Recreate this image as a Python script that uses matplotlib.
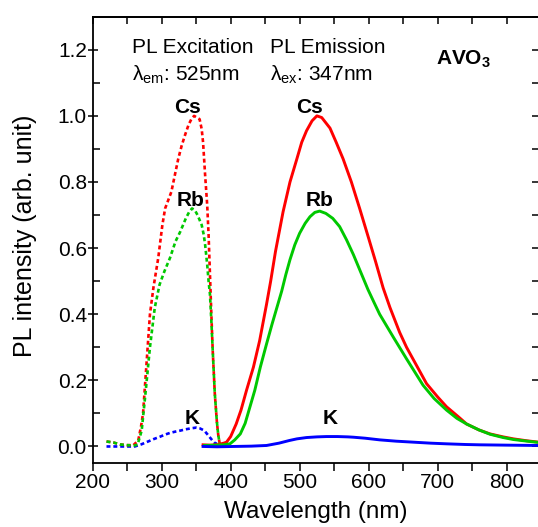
"""
PL excitation / emission spectra of AVO3 (A = Cs, Rb, K).
Saves out.png
"""

import numpy as np
import matplotlib
matplotlib.use("Agg")
import matplotlib.pyplot as plt
import matplotlib.ticker as mticker

plt.rcParams["font.family"] = ["Liberation Sans", "DejaVu Sans"]
plt.rcParams["mathtext.fontset"] = "custom"
plt.rcParams["mathtext.rm"] = "Liberation Sans"
plt.rcParams["mathtext.it"] = "Liberation Sans:italic"
plt.rcParams["mathtext.bf"] = "Liberation Sans:bold"

# --- Data --------------------------------------------------------------------
# Excitation spectra (lambda_em = 525 nm)
exc_cs_wl = [220, 230, 240, 250, 259, 266, 270, 273, 278, 283, 288, 295, 301,
             305, 314, 319, 324, 329, 334, 339, 343, 347, 351, 355, 358, 360,
             363, 366, 368, 370, 372, 374, 377, 380, 382, 384, 386]
exc_cs = [0.015, 0.012, 0.006, 0.004, 0.004, 0.018, 0.06, 0.10, 0.25, 0.40,
          0.48, 0.57, 0.67, 0.72, 0.77, 0.82, 0.87, 0.91, 0.943, 0.973, 0.99,
          1.0, 0.995, 0.99, 0.96, 0.92, 0.82, 0.73, 0.64, 0.52, 0.40, 0.29,
          0.16, 0.075, 0.035, 0.01, 0.005]

exc_rb_wl = [220, 230, 240, 250, 260, 265, 271, 276, 283, 290, 297, 304, 312,
             320, 327, 335, 340, 344, 348, 352, 356, 358, 361, 363, 366, 368,
             370, 372, 374, 377, 380, 382, 384, 386]
exc_rb = [0.015, 0.012, 0.006, 0.004, 0.003, 0.005, 0.048, 0.15, 0.30, 0.42,
          0.49, 0.53, 0.57, 0.62, 0.65, 0.69, 0.71, 0.72, 0.715, 0.70, 0.68,
          0.67, 0.64, 0.61, 0.55, 0.50, 0.46, 0.38, 0.29, 0.16, 0.075, 0.035,
          0.01, 0.005]

exc_k_wl = [220, 230, 240, 250, 261, 270, 278, 288, 297, 305, 312, 320, 327,
            335, 343, 350, 355, 360, 363, 367, 372, 376, 380]
exc_k = [0.0, 0.0, 0.0, 0.0, 0.0, 0.006, 0.013, 0.022, 0.029, 0.036, 0.041,
         0.045, 0.048, 0.052, 0.055, 0.057, 0.055, 0.05, 0.045, 0.035, 0.022,
         0.012, 0.008]

# Emission spectra (lambda_ex = 347 nm)
em_cs_wl = [360, 370, 380, 390, 394, 400, 408, 415, 423, 433, 442, 452, 458,
            465, 476, 486, 496, 503, 510, 518, 525, 532, 544, 553, 563, 575,
            587, 600, 610, 621, 631, 645, 655, 665, 684, 700, 713, 730, 742,
            760, 776, 795, 810, 830, 847]
em_cs = [0.005, 0.004, 0.005, 0.01, 0.013, 0.03, 0.068, 0.11, 0.17, 0.24,
         0.32, 0.43, 0.50, 0.59, 0.71, 0.80, 0.87, 0.92, 0.955, 0.985, 1.0,
         0.995, 0.963, 0.92, 0.87, 0.80, 0.72, 0.63, 0.56, 0.48, 0.42, 0.345,
         0.30, 0.262, 0.19, 0.15, 0.12, 0.09, 0.068, 0.05, 0.038, 0.029,
         0.023, 0.017, 0.013]

em_rb_wl = [362, 380, 390, 399, 406, 414, 421, 428, 435, 443, 452, 460, 467,
            474, 480, 486, 493, 500, 508, 515, 522, 529, 538, 548, 558, 568,
            578, 589, 599, 608, 616, 636, 655, 679, 695, 713, 728, 742, 760,
            776, 795, 810, 830, 847]
em_rb = [0.003, 0.004, 0.005, 0.008, 0.02, 0.038, 0.07, 0.12, 0.17, 0.24,
         0.31, 0.37, 0.42, 0.47, 0.52, 0.565, 0.61, 0.645, 0.675, 0.695,
         0.708, 0.712, 0.705, 0.69, 0.665, 0.625, 0.58, 0.525, 0.475, 0.435,
         0.40, 0.33, 0.265, 0.185, 0.145, 0.11, 0.085, 0.068, 0.05, 0.037,
         0.027, 0.021, 0.016, 0.012]

em_k_wl = [360, 380, 404, 430, 452, 470, 485, 496, 510, 525, 539, 555, 570,
           578, 595, 616, 640, 665, 690, 713, 740, 761, 800, 847]
em_k = [0.0, -0.001, 0.0, 0.001, 0.003, 0.01, 0.018, 0.023, 0.027, 0.029,
        0.030, 0.030, 0.029, 0.028, 0.025, 0.02, 0.016, 0.013, 0.01, 0.008,
        0.006, 0.005, 0.004, 0.003]

x_major = [200, 300, 400, 500, 600, 700, 800]
y_major = [0.0, 0.2, 0.4, 0.6, 0.8, 1.0, 1.2]
# -----------------------------------------------------------------------------

RED, GREEN, BLUE = "#ff0000", "#00c800", "#0000ff"
DOT = (0, (1.5, 1.1))


def style_axes(ax):
    ax.set_xlim(200, 847)
    ax.set_ylim(-0.05, 1.3)
    ax.set_xticks(x_major)
    ax.set_yticks(y_major)
    ax.xaxis.set_minor_locator(mticker.MultipleLocator(50))
    ax.yaxis.set_minor_locator(mticker.MultipleLocator(0.1))
    ax.yaxis.set_major_formatter(mticker.FormatStrFormatter("%.1f"))
    for sp in ax.spines.values():
        sp.set_linewidth(1.3)

    ax.tick_params(axis="x", which="both", direction="out", length=5.5,
                   width=1.1, labelsize=15, pad=2, top=False)
    ax.tick_params(axis="y", which="major", direction="inout", length=6.5,
                   width=1.1, labelsize=15, pad=1, right=False)
    ax.tick_params(axis="y", which="minor", direction="in", length=4.8,
                   width=1.1, right=False)

    # mirrored ticks, pointing inwards
    top = ax.secondary_xaxis("top")
    top.set_xticks(x_major)
    top.xaxis.set_minor_locator(mticker.MultipleLocator(50))
    top.tick_params(which="both", direction="in", length=4.8, width=1.1,
                    labeltop=False)
    right = ax.secondary_yaxis("right")
    right.set_yticks(y_major)
    right.yaxis.set_minor_locator(mticker.MultipleLocator(0.1))
    right.tick_params(which="both", direction="in", length=4.8, width=1.1,
                      labelright=False)
    for sec in (top, right):
        for sp in sec.spines.values():
            sp.set_linewidth(1.3)


fig = plt.figure(figsize=(5.38, 5.27), dpi=100)
ax = fig.add_axes([92.7 / 538, 1 - 463 / 527, 446.3 / 538, 446.3 / 527])

# excitation (dotted)
ax.plot(exc_k_wl, exc_k, color=BLUE, lw=1.9, ls=DOT)
ax.plot(exc_cs_wl, exc_cs, color=RED, lw=1.9, ls=DOT)
ax.plot(exc_rb_wl, exc_rb, color=GREEN, lw=1.9, ls=DOT)

# emission (solid)
ax.plot(em_cs_wl, em_cs, color=RED, lw=2.1)
ax.plot(em_rb_wl, em_rb, color=GREEN, lw=2.1)
ax.plot(em_k_wl, em_k, color=BLUE, lw=2.1)

style_axes(ax)

ax.set_xlabel("Wavelength (nm)", fontsize=17.5)
ax.set_ylabel("PL intensity (arb. unit)", fontsize=18)
ax.xaxis.set_label_coords(0.5, -0.085)
ax.yaxis.set_label_coords(-0.125, 0.51)

# annotations
kw = dict(fontsize=15, va="baseline")
ax.text(256.5, 1.191, "PL Excitation", ha="left", **kw)
ax.text(256.5, 1.107, r"$\mathrm{\lambda}_{\mathrm{em}}$: 525nm", ha="left", **kw)
ax.text(457, 1.191, "PL Emission", ha="left", **kw)
ax.text(457, 1.107, r"$\mathrm{\lambda}_{\mathrm{ex}}$: 347nm", ha="left", **kw)
ax.text(697.5, 1.155, r"$\mathbf{AVO_3}$", ha="left", **kw)

bold = dict(fontsize=15, fontweight="bold", ha="center", va="baseline")
ax.text(337.4, 1.008, "Cs", **bold)
ax.text(514.2, 1.008, "Cs", **bold)
ax.text(342.5, 0.727, "Rb", **bold)
ax.text(529.4, 0.727, "Rb", **bold)
ax.text(343.5, 0.068, "K", **bold)
ax.text(544.6, 0.068, "K", **bold)

fig.savefig("out.png", dpi=100)
